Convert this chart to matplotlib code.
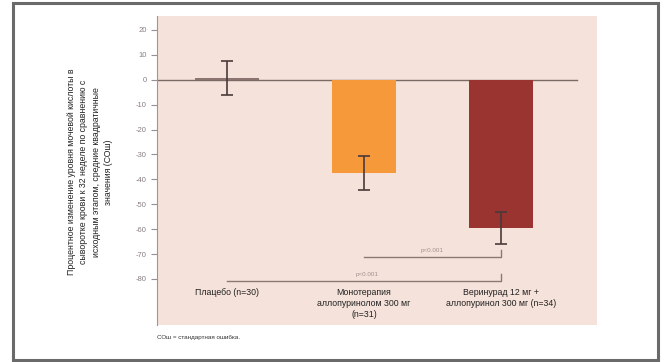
import matplotlib
matplotlib.use("Agg")
import matplotlib.pyplot as plt
from matplotlib.patches import Rectangle

plt.rcParams['font.family'] = ['Liberation Sans', 'DejaVu Sans']

# group labels and summary values (least-squares mean % change, SE)
groups = ["Плацебо (n=30)",
          "Монотерапия\nаллопуринолом 300 мг\n(n=31)",
          "Веринурад 12 мг +\nаллопуринол 300 мг (n=34)"]
means = [0.8, -37.3, -59.5]
sems = [6.8, 6.8, 6.5]
bar_colors = ["#8c7570", "#F5993A", "#993431"]
yticks = [20, 10, 0, -10, -20, -30, -40, -50, -60, -70, -80]

# pairwise comparisons: (group a, group b, y level, label)
comparisons = [(1, 2, -71, "p<0.001"),
               (0, 2, -80.7, "p<0.001")]

ylabel = ("Процентное изменение уровня мочевой кислоты в\n"
          "сыворотке крови к 32 неделе по сравнению с\n"
          "исходным этапом, средние квадратичные\n"
          "значения (СОш)")

fig = plt.figure(figsize=(6.65, 3.62), dpi=100)
fig.patch.set_facecolor("white")
ax = fig.add_axes([157 / 665, 1 - 325 / 362, 440 / 665, 309 / 362])
ax.set_facecolor("#F5E2DA")

x = list(range(len(groups)))
ax.bar(x, means, width=0.47, color=bar_colors, zorder=2)
ax.errorbar(x, means, yerr=sems, fmt="none", ecolor="#4a3a3a",
            elinewidth=1.2, capsize=4, capthick=1.2, zorder=3)
ax.axhline(0, xmin=0, xmax=0.955, color="#7a6a66", lw=1, zorder=1)

for a, b, level, txt in comparisons:
    ax.plot([a, b, b], [level, level, level + 2.8], color="#8a7a76", lw=1, zorder=2)
    ax.text((a + b) / 2 if a else 1.02, level + 1.5, txt, fontsize=4.5,
            color="#a09090", ha="center", va="bottom")

for xi, g in zip(x, groups):
    ax.text(xi, -83.5, g, ha="center", va="top", fontsize=6.3, color="#222222",
            linespacing=1.3)

ax.set_xlim(-0.51, 2.70)
ax.set_ylim(-98.5, 25.6)
ax.set_yticks(yticks)
ax.set_yticklabels([str(t) for t in yticks], fontsize=5.5, color="#8a7f7f")
ax.tick_params(axis="y", direction="out", length=4, color="#9a8f8f")
ax.set_xticks([])
for s in ["top", "right", "bottom"]:
    ax.spines[s].set_visible(False)
ax.spines["left"].set_color("#a09494")

fig.text(90 / 665, 1 - 172 / 362, ylabel, rotation=90, ha="center", va="center",
         multialignment="center", fontsize=6.3, color="#222222", linespacing=1.45)
fig.text(157 / 665, 1 - 338 / 362, "СОш = стандартная ошибка.", fontsize=4.5,
         color="#333333", va="center")

# outer frame
fig.patches.append(Rectangle((13 / 665, 2 / 362), 645 / 665, 357 / 362,
                             transform=fig.transFigure, fill=False,
                             edgecolor="#6a6a6a", lw=2.2))

fig.savefig("out.png", dpi=100)
